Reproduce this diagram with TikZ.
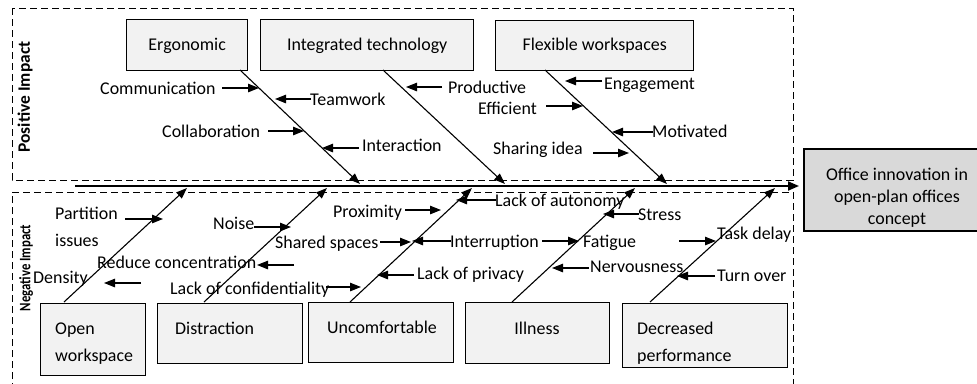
\documentclass[tikz,border=0pt]{standalone}
\usepackage{fontspec}
\setmainfont{Carlito}
\usetikzlibrary{arrows.meta,calc}
\definecolor{boxgray}{HTML}{F2F2F2}
\definecolor{resgray}{HTML}{D9D9D9}
\begin{document}
\begin{tikzpicture}[x=1bp,y=-1bp,
  every node/.style={font=\fontsize{18}{21}\selectfont, inner sep=0pt},
  lbl/.style={anchor=base west},
  cbox/.style={draw, line width=1.4bp, fill=boxgray, anchor=north west},
  bone/.style={line width=1.1bp, -{Triangle[length=11bp,width=8bp]}},
  larr/.style={line width=1.1bp, -{Triangle[length=11bp,width=8.5bp]}},
  spine/.style={line width=2bp, -{Triangle[length=11bp,width=9bp]}},
  dframe/.style={dash pattern=on 7bp off 4bp, line width=0.9bp}]
\useasboundingbox (0,0) rectangle (977,383);

% dashed frames
\draw[dframe] (12,8) rectangle (793,180);
\draw[dframe] (12,390) -- (12,192) -- (793,192) -- (793,390);

% side labels
\node[rotate=90, font=\fontsize{17.5}{20}\selectfont\bfseries] (pimp) at (25,97) {Positive Impact};
\node[rotate=90, font=\fontsize{16}{20}\selectfont\bfseries] (nimp) at (26,268) {\scalebox{0.8}[1]{Negative Impact}};

% result box
\node[cbox, fill=resgray, line width=2bp, minimum width=174bp, minimum height=82bp] (res) at (803,148) {};
\node[align=center, font=\fontsize{18}{22}\selectfont] (resT) at (897,198) {Office innovation in\\open-plan offices\\concept};

% spine
\coordinate (sp0) at (75,186);
\coordinate (sp1) at (799,186);
\draw[spine] (sp0) -- (sp1);

% top boxes
\node[cbox, minimum width=121bp, minimum height=51bp] (ergo) at (126,19) {};
\node (ergoT) at ($(ergo.center)+(0,1)$) {Ergonomic};
\node[cbox, minimum width=213bp, minimum height=51bp] (integ) at (260,19) {};
\node (integT) at ($(integ.center)+(0,1)$) {Integrated technology};
\node[cbox, minimum width=198bp, minimum height=50bp] (flex) at (495,20) {};
\node (flexT) at ($(flex.center)+(0,0)$) {Flexible workspaces};

% bottom boxes
\node[cbox, minimum width=105bp, minimum height=72bp] (open) at (40,303) {};
\node[lbl] (openT1) at (55,334) {Open};
\node[lbl] (openT2) at (55,361) {workspace};
\node[cbox, minimum width=145bp, minimum height=60bp] (dist) at (157,303) {};
\node[lbl] (distT) at (175,334) {Distraction};
\node[cbox, minimum width=145bp, minimum height=60bp] (unc) at (308,302) {};
\node (uncT) at (382,327) {Uncomfortable};
\node[cbox, minimum width=144bp, minimum height=61bp] (ill) at (465,302) {};
\node (illT) at (537,328) {Illness};
\node[cbox, minimum width=165bp, minimum height=64bp] (dec) at (622,303) {};
\node[lbl] (decT1) at (637,334) {Decreased};
\node[lbl] (decT2) at (637,361) {performance};

% top bones
\coordinate (b1s) at (240,70);  \coordinate (b1e) at (360,184);
\coordinate (b2s) at (383,70);  \coordinate (b2e) at (505,184);
\coordinate (b3s) at (545,70);  \coordinate (b3e) at (667,184);
\draw[bone] (b1s) -- (b1e);
\draw[bone] (b2s) -- (b2e);
\draw[bone] (b3s) -- (b3e);

% bottom bones
\coordinate (c1s) at (64,302);  \coordinate (c1e) at (187,188);
\coordinate (c2s) at (204,302); \coordinate (c2e) at (327,188);
\coordinate (c3s) at (350,302); \coordinate (c3e) at (472,188);
\coordinate (c4s) at (512,302); \coordinate (c4e) at (635,188);
\coordinate (c5s) at (650,302); \coordinate (c5e) at (775,188);
\draw[bone] (c1s) -- (c1e);
\draw[bone] (c2s) -- (c2e);
\draw[bone] (c3s) -- (c3e);
\draw[bone] (c4s) -- (c4e);
\draw[bone] (c5s) -- (c5e);

% top labels
\node[lbl] (comm) at (100,94) {Communication};
\coordinate (a1s) at (222,88); \coordinate (a1e) at (259,88);
\draw[larr] (a1s) -- (a1e);
\node[lbl] (team) at (310,105) {Teamwork};
\coordinate (a2s) at (311,99); \coordinate (a2e) at (275,99);
\draw[larr] (a2s) -- (a2e);
\node[lbl] (coll) at (162,137) {Collaboration};
\coordinate (a3s) at (268,131); \coordinate (a3e) at (304,131);
\draw[larr] (a3s) -- (a3e);
\node[lbl] (inter) at (362,151) {Interaction};
\coordinate (a4s) at (359,148); \coordinate (a4e) at (322,148);
\draw[larr] (a4s) -- (a4e);
\node[lbl] (prod) at (448,93) {Productive};
\coordinate (a5s) at (442,87); \coordinate (a5e) at (406,87);
\draw[larr] (a5s) -- (a5e);
\node[lbl] (effi) at (478,114) {Efficient};
\coordinate (a6s) at (546,106); \coordinate (a6e) at (583,106);
\draw[larr] (a6s) -- (a6e);
\node[lbl] (enga) at (604,89) {Engagement};
\coordinate (a7s) at (602,81); \coordinate (a7e) at (565,81);
\draw[larr] (a7s) -- (a7e);
\node[lbl] (moti) at (652,137) {Motivated};
\coordinate (a8s) at (653,132); \coordinate (a8e) at (612,132);
\draw[larr] (a8s) -- (a8e);
\node[lbl] (shar) at (493,154) {Sharing idea};
\coordinate (a9s) at (593,153); \coordinate (a9e) at (629,153);
\draw[larr] (a9s) -- (a9e);

% bottom labels
\node[lbl] (part1) at (55,219) {Partition};
\node[lbl] (part2) at (55,246) {issues};
\coordinate (d1s) at (125,219); \coordinate (d1e) at (163,219);
\draw[larr] (d1s) -- (d1e);
\node[lbl] (dens) at (33,283) {Density};
\coordinate (d2s) at (141,283); \coordinate (d2e) at (104,283);
\draw[larr] (d2s) -- (d2e);
\node[lbl] (redu) at (97,268) {Reduce concentration};
\coordinate (d3s) at (294,265); \coordinate (d3e) at (257,265);
\draw[larr] (d3s) -- (d3e);
\node[lbl] (nois) at (213,229) {Noise};
\coordinate (d4s) at (254,227); \coordinate (d4e) at (291,227);
\draw[larr] (d4s) -- (d4e);
\node[lbl] (shsp) at (275,248) {Shared spaces};
\coordinate (d5s) at (380,242); \coordinate (d5e) at (411,242);
\draw[larr] (d5s) -- (d5e);
\node[lbl] (conf) at (170,294) {Lack of confidentiality};
\coordinate (d6s) at (326,287); \coordinate (d6e) at (361,287);
\draw[larr] (d6s) -- (d6e);
\node[lbl] (prox) at (333,217) {Proximity};
\coordinate (d7s) at (405,210); \coordinate (d7e) at (441,210);
\draw[larr] (d7s) -- (d7e);
\node[lbl] (auto) at (495,206) {Lack of autonomy};
\coordinate (d8s) at (496,200); \coordinate (d8e) at (456,200);
\draw[larr] (d8s) -- (d8e);
\node[lbl] (intr) at (450,247) {Interruption};
\coordinate (d9s) at (451,241); \coordinate (d9e) at (412,241);
\draw[larr] (d9s) -- (d9e);
\coordinate (d10s) at (542,241); \coordinate (d10e) at (579,241);
\draw[larr] (d10s) -- (d10e);
\node[lbl] (fati) at (583,247) {Fatigue};
\node[lbl] (priv) at (417,279) {Lack of privacy};
\coordinate (d11s) at (414,275); \coordinate (d11e) at (377,275);
\draw[larr] (d11s) -- (d11e);
\node[lbl] (stre) at (638,220) {Stress};
\coordinate (d12s) at (639,214); \coordinate (d12e) at (603,214);
\draw[larr] (d12s) -- (d12e);
\node[lbl] (nerv) at (590,272) {Nervousness};
\coordinate (d13s) at (589,268); \coordinate (d13e) at (552,268);
\draw[larr] (d13s) -- (d13e);
\node[lbl] (task) at (717,239) {Task delay};
\coordinate (d14s) at (679,241); \coordinate (d14e) at (716,241);
\draw[larr] (d14s) -- (d14e);
\node[lbl] (turn) at (717,281) {Turn over};
\coordinate (d15s) at (715,276); \coordinate (d15e) at (677,276);
\draw[larr] (d15s) -- (d15e);
\end{tikzpicture}
\end{document}
